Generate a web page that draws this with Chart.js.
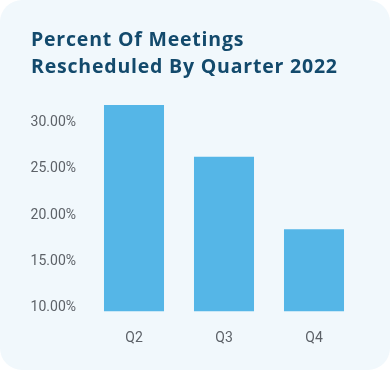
<!DOCTYPE html>
<html>
<head>
<meta charset="utf-8">
<script src="https://cdn.jsdelivr.net/npm/chart.js@4/dist/chart.umd.min.js"></script>
<style>
  html, body { margin: 0; padding: 0; background: #ffffff; }
  .card {
    position: relative;
    width: 390px;
    height: 370px;
    background: #f1f8fc;
    border-radius: 22px;
    overflow: hidden;
  }
  .title {
    position: absolute;
    left: 31px;
    top: 24.7px;
    margin: 0;
    font-family: "Open Sans", sans-serif;
    font-weight: 700;
    font-size: 19.5px;
    line-height: 27.6px;
    letter-spacing: 0.8px;
    color: #134a6c;
    white-space: nowrap;
  }
  canvas { display: block; }
</style>
</head>
<body>
<div class="card">
  <h1 class="title" id="title"></h1>
  <canvas id="chart" width="390" height="370"></canvas>
</div>
<script>
// data
const quarters = ['Q2', 'Q3', 'Q4'];
const rescheduledPct = [31.9, 26.3, 18.45];
const yTicks = [10, 15, 20, 25, 30];
const titleLines = ['Percent Of Meetings', 'Rescheduled By Quarter 2022'];

const titleEl = document.getElementById('title');
titleLines.forEach((line, i) => {
    if (i) titleEl.appendChild(document.createElement('br'));
    titleEl.appendChild(document.createTextNode(line));
});

const ctx = document.getElementById('chart').getContext('2d');

new Chart(ctx, {
    type: 'bar',
    data: {
        labels: quarters,
        datasets: [{
            data: rescheduledPct,
            backgroundColor: '#55b6e7',
            borderWidth: 0,
            barPercentage: 1,
            categoryPercentage: 0.667
        }]
    },
    options: {
        responsive: false,
        devicePixelRatio: 1,
        animation: false,
        layout: {
            // x tick padding counts twice in the axis height
            padding: { top: 104, left: 31, right: 31, bottom: 4 }
        },
        plugins: {
            legend: { display: false },
            tooltip: { enabled: false }
        },
        scales: {
            x: {
                grid: { display: false, drawTicks: false },
                border: { display: false },
                ticks: {
                    color: '#5d6268',
                    padding: 19,
                    font: { family: 'Roboto, sans-serif', size: 14 }
                }
            },
            y: {
                min: 9.6,
                max: 32,
                grid: { display: false, drawTicks: false },
                border: { display: false },
                afterBuildTicks: (scale) => {
                    scale.ticks = yTicks.map(v => ({ value: v }));
                },
                afterFit: (scale) => {
                    scale.width = 58;
                },
                ticks: {
                    color: '#5d6268',
                    padding: 13,
                    font: { family: 'Roboto, sans-serif', size: 14 },
                    callback: (v) => v.toFixed(2) + '%'
                }
            }
        }
    }
});
</script>
</body>
</html>
